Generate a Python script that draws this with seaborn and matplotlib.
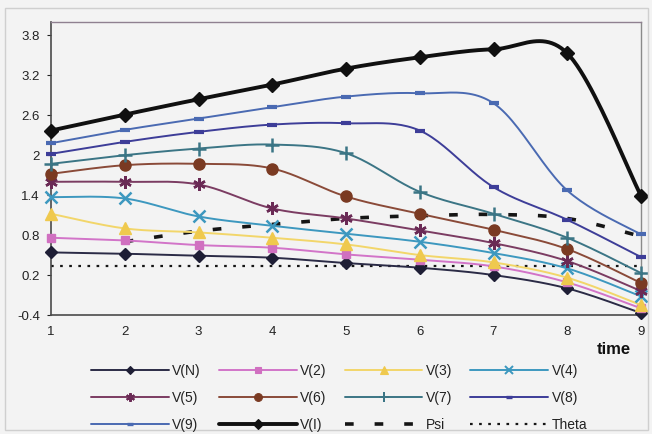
import numpy as np
import pandas as pd
import seaborn as sns
import matplotlib
matplotlib.use("Agg")
import matplotlib.pyplot as plt
from matplotlib.lines import Line2D
from matplotlib.patches import Rectangle

# ---------------- data ----------------
time = [1, 2, 3, 4, 5, 6, 7, 8, 9]
v_n = [0.54, 0.52, 0.49, 0.46, 0.38, 0.31, 0.20, 0.00, -0.37]
v_2 = [0.76, 0.72, 0.65, 0.61, 0.51, 0.43, 0.33, 0.09, -0.30]
v_3 = [1.12, 0.90, 0.84, 0.76, 0.66, 0.50, 0.39, 0.16, -0.25]
v_4 = [1.37, 1.35, 1.08, 0.94, 0.82, 0.70, 0.53, 0.30, -0.12]
v_5 = [1.60, 1.60, 1.56, 1.20, 1.05, 0.87, 0.68, 0.41, -0.04]
v_6 = [1.72, 1.85, 1.87, 1.80, 1.38, 1.12, 0.88, 0.59, 0.08]
v_7 = [1.87, 2.00, 2.10, 2.16, 2.03, 1.45, 1.12, 0.76, 0.23]
v_8 = [2.02, 2.20, 2.35, 2.46, 2.48, 2.37, 1.52, 1.03, 0.47]
v_9 = [2.18, 2.38, 2.55, 2.72, 2.88, 2.93, 2.78, 1.47, 0.81]
v_i = [2.37, 2.61, 2.84, 3.06, 3.30, 3.47, 3.59, 3.53, 1.39]
psi = [np.nan, 0.70, 0.86, 0.96, 1.05, 1.09, 1.11, 1.05, 0.78]
theta = [0.34, 0.34, 0.34, 0.34, 0.34, 0.34, 0.34, 0.34, 0.34]

y_ticks = [-0.4, 0.2, 0.8, 1.4, 2, 2.6, 3.2, 3.8]
y_tick_labels = ["-0.4", "0.2", "0.8", "1.4", "2", "2.6", "3.2", "3.8"]

series = [
    # name, values, color, marker, markersize, lw, marker face, marker edge width
    ("V(N)", v_n, "#2b2b46", "D", 6, 1.4, "#1e1e35", 1.0),
    ("V(2)", v_2, "#d274c8", "s", 6, 1.4, "#d070c0", 1.0),
    ("V(3)", v_3, "#f2d66a", "^", 8, 1.4, "#efc94e", 1.0),
    ("V(4)", v_4, "#3d98bf", "x", 8, 1.4, "#3d98bf", 1.8),
    ("V(5)", v_5, "#7b3c62", (6, 2, 0), 9, 1.4, "#6a2a55", 1.8),
    ("V(6)", v_6, "#8a4a38", "o", 8, 1.4, "#7a3a22", 1.0),
    ("V(7)", v_7, "#3b7585", "+", 10, 1.4, "#3b7585", 1.8),
    ("V(8)", v_8, "#3d3d98", "_", 7, 1.4, "#3d3d98", 3.0),
    ("V(9)", v_9, "#4a6ab2", "_", 7, 1.4, "#4a6ab2", 3.0),
    ("V(I)", v_i, "#101010", "D", 7.5, 2.8, "#101010", 1.0),
]


def excel_smooth(xv, yv, n=24):
    """Bezier smoothing similar to spreadsheet 'smoothed line'."""
    pts = np.array([(a, b) for a, b in zip(xv, yv) if not np.isnan(b)], float)
    out = [pts[0]]
    m = len(pts)
    t = np.linspace(0, 1, n + 1)[1:, None]
    for i in range(m - 1):
        p0 = pts[i - 1] if i > 0 else pts[i]
        p1, p2 = pts[i], pts[i + 1]
        p3 = pts[i + 2] if i + 2 < m else pts[i + 1]
        c1 = p1 + (p2 - p0) / 6.0
        c2 = p2 - (p3 - p1) / 6.0
        seg = ((1 - t) ** 3) * p1 + 3 * ((1 - t) ** 2) * t * c1 + 3 * (1 - t) * t ** 2 * c2 + t ** 3 * p2
        out.extend(seg)
    out = np.array(out)
    return out[:, 0], out[:, 1]


sns.set_theme(style="white")
plt.rcParams["font.family"] = ["Liberation Sans", "DejaVu Sans"]

bg = "#f3f3f3"
fig = plt.figure(figsize=(6.52, 4.34), dpi=100, facecolor=bg)
ax = fig.add_axes([51 / 652, 1 - 315 / 434, 590 / 652, 293 / 434])
ax.set_facecolor(bg)

# outer chart border
fig.patches.append(Rectangle((5 / 652, 4 / 434), 643 / 652, 422 / 434, transform=fig.transFigure,
                             fill=False, edgecolor="#cfcfcf", lw=1.0))

# Theta and Psi
tx, ty = excel_smooth(time, theta)
sns.lineplot(x=tx, y=ty, ax=ax, sort=False, estimator=None, color="#151515", lw=1.6,
             linestyle=(0, (1.2, 2.9)), zorder=2)
px, py = excel_smooth(time, psi)
sns.lineplot(x=px, y=py, ax=ax, sort=False, estimator=None, color="#151515", lw=2.6,
             linestyle=(0, (2.4, 5.8)), zorder=2)

for k, (name, vals, col, mk, ms, lw, mfc, mew) in enumerate(series):
    sx, sy = excel_smooth(time, vals)
    sns.lineplot(x=sx, y=sy, ax=ax, sort=False, estimator=None, color=col, lw=lw, zorder=3 + k)
    ax.plot(time, vals, linestyle="none", marker=mk, markersize=ms, color=mfc,
            markerfacecolor=mfc, markeredgecolor=mfc, markeredgewidth=mew, zorder=3 + k,
            clip_on=False)

ax.set_xlim(1, 9)
ax.set_ylim(-0.4, 4.0)
ax.set_xticks(time)
ax.set_xticklabels([str(t) for t in time])
ax.set_yticks(y_ticks)
ax.set_yticklabels(y_tick_labels)
ax.tick_params(axis="both", labelsize=9.5, colors="#222222", length=3, width=0.8, pad=5)
ax.tick_params(axis="x", length=0, pad=8)
ax.tick_params(axis="y", direction="out", left=True)
ax.set_xlabel("")
ax.set_ylabel("")
for s in ["left", "bottom"]:
    ax.spines[s].set_color("#4a4a4a")
    ax.spines[s].set_linewidth(1.2)
ax.spines["top"].set_color("#8f8090")
ax.spines["top"].set_linewidth(1.0)
ax.spines["right"].set_color("#8a8a8a")
ax.spines["right"].set_linewidth(1.0)
ax.grid(False)

fig.text(614 / 652, 1 - 349 / 434, "time", ha="center", va="center", fontsize=12,
         fontweight="bold", color="#111111")

# legend
handles = {}
for name, vals, col, mk, ms, lw, mfc, mew in series:
    handles[name] = Line2D([], [], color=col, lw=lw, marker=mk, markersize=ms * 0.7,
                           markerfacecolor=mfc, markeredgecolor=mfc, markeredgewidth=mew * 0.8)
handles["Psi"] = Line2D([], [], color="#151515", lw=2.6, linestyle=(0, (2.4, 5.8)))
handles["Theta"] = Line2D([], [], color="#151515", lw=1.6, linestyle=(0, (1.2, 2.9)))
order = ["V(N)", "V(5)", "V(9)", "V(2)", "V(6)", "V(I)", "V(3)", "V(7)", "Psi", "V(4)", "V(8)", "Theta"]
leg = fig.legend([handles[o] for o in order], order, ncol=4, loc="upper left",
                 bbox_to_anchor=(84 / 652, 1 - 357 / 434), frameon=False,
                 fontsize=10, handlelength=5.6, handletextpad=0.25, columnspacing=1.3,
                 labelspacing=0.95, borderpad=0.0)
for t in leg.get_texts():
    t.set_color("#222222")

fig.savefig("out.png", dpi=100, facecolor=bg)
